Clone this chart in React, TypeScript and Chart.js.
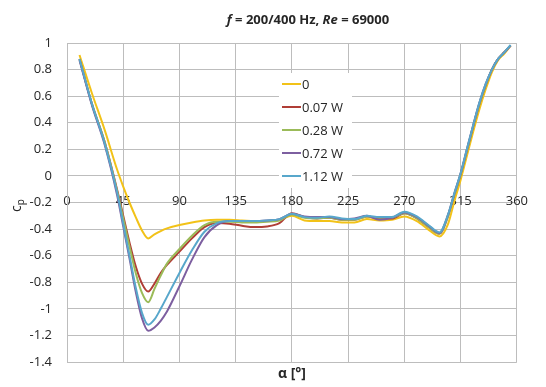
import React, { useEffect, useRef } from "react";
import { Chart, registerables } from "chart.js";
Chart.register(...registerables);

const angles = [10, 20, 30, 40, 45, 50, 55, 60, 65, 70, 75, 80, 90, 100, 110, 120, 130, 140, 150, 160, 170, 180, 190, 200, 210, 220, 230, 240, 250, 260, 270, 280, 290, 298, 305, 310, 315, 320, 325, 330, 335, 340, 345, 350, 355];

const cp0 = [0.91, 0.62, 0.35, 0.05, -0.08, -0.2, -0.31, -0.41, -0.47, -0.44, -0.415, -0.395, -0.37, -0.35, -0.335, -0.33, -0.33, -0.335, -0.34, -0.34, -0.33, -0.3, -0.335, -0.34, -0.34, -0.35, -0.35, -0.325, -0.335, -0.33, -0.305, -0.34, -0.41, -0.455, -0.36, -0.19, -0.03, 0.15, 0.33, 0.5, 0.65, 0.78, 0.87, 0.92, 0.98];
const cp007 = [0.88, 0.54, 0.26, -0.1, -0.3, -0.5, -0.68, -0.81, -0.87, -0.81, -0.73, -0.67, -0.57, -0.47, -0.385, -0.355, -0.36, -0.375, -0.385, -0.38, -0.355, -0.28, -0.31, -0.32, -0.315, -0.33, -0.33, -0.305, -0.32, -0.32, -0.28, -0.32, -0.39, -0.435, -0.3, -0.14, 0.01, 0.19, 0.37, 0.54, 0.68, 0.8, 0.88, 0.93, 0.98];
const cp028 = [0.88, 0.54, 0.26, -0.11, -0.32, -0.53, -0.73, -0.88, -0.95, -0.85, -0.75, -0.66, -0.55, -0.45, -0.37, -0.345, -0.345, -0.35, -0.35, -0.345, -0.335, -0.29, -0.315, -0.32, -0.315, -0.33, -0.33, -0.305, -0.315, -0.315, -0.28, -0.32, -0.39, -0.435, -0.3, -0.14, 0.01, 0.19, 0.37, 0.54, 0.68, 0.8, 0.88, 0.93, 0.98];
const cp072 = [0.87, 0.53, 0.24, -0.14, -0.38, -0.62, -0.87, -1.07, -1.165, -1.14, -1.09, -1.02, -0.83, -0.63, -0.46, -0.37, -0.34, -0.34, -0.34, -0.335, -0.325, -0.285, -0.305, -0.31, -0.31, -0.325, -0.32, -0.3, -0.33, -0.315, -0.275, -0.31, -0.38, -0.43, -0.29, -0.13, 0.02, 0.2, 0.38, 0.55, 0.69, 0.8, 0.88, 0.93, 0.98];
const cp112 = [0.88, 0.54, 0.25, -0.12, -0.36, -0.6, -0.84, -1.03, -1.12, -1.08, -1.0, -0.91, -0.73, -0.56, -0.42, -0.355, -0.34, -0.34, -0.34, -0.335, -0.325, -0.285, -0.31, -0.315, -0.305, -0.32, -0.325, -0.3, -0.31, -0.31, -0.27, -0.305, -0.375, -0.425, -0.29, -0.13, 0.02, 0.2, 0.38, 0.55, 0.69, 0.8, 0.88, 0.93, 0.985];

const seriesLabels = ["0", "0.07 W", "0.28 W", "0.72 W", "1.12 W"];
const seriesValues = [cp0, cp007, cp028, cp072, cp112];
const seriesColors = ["#F2C218", "#B03E36", "#9BBB59", "#7D5FA0", "#58A7CB"];

const titleParts = [
  { text: "f", italic: true },
  { text: " = 200/400 Hz, ", italic: false },
  { text: "Re", italic: true },
  { text: " = 69000", italic: false },
];
const xTitle = "α [°]";
const yTitleMain = "c";
const yTitleSub = "p";

const FONT = "'Open Sans', sans-serif";
const TEXT = "#262626";
const GRID = "#bdbdbd";

const overlay = {
  id: "overlay",
  afterDraw(chart: any) {
    const ctx = chart.ctx as CanvasRenderingContext2D;
    const area = chart.chartArea;
    ctx.save();
    // title
    ctx.fillStyle = TEXT;
    ctx.textBaseline = "middle";
    let total = 0;
    const fonts = titleParts.map((p) => (p.italic ? "italic " : "") + "bold 13px " + FONT);
    titleParts.forEach((p, i) => {
      ctx.font = fonts[i];
      total += ctx.measureText(p.text).width;
    });
    let x = 308 - total / 2;
    titleParts.forEach((p, i) => {
      ctx.font = fonts[i];
      ctx.textAlign = "left";
      ctx.fillText(p.text, x, 20);
      x += ctx.measureText(p.text).width;
    });
    // x title
    ctx.font = "bold 14px " + FONT;
    ctx.textAlign = "center";
    ctx.fillText(xTitle, (area.left + area.right) / 2, 374);
    // y title
    ctx.save();
    ctx.translate(17, 207);
    ctx.rotate(-Math.PI / 2);
    ctx.font = "14px " + FONT;
    ctx.textAlign = "left";
    const cw = ctx.measureText(yTitleMain).width;
    ctx.fillText(yTitleMain, -5, 0);
    ctx.font = "10px " + FONT;
    ctx.fillText(yTitleSub, -5 + cw, 4);
    ctx.restore();
    // legend
    ctx.fillStyle = "#ffffff";
    ctx.fillRect(279, 73, 73, 115);
    const ys = [84, 107, 130, 153, 176];
    seriesLabels.forEach((lab, i) => {
      ctx.strokeStyle = seriesColors[i];
      ctx.lineWidth = 2;
      ctx.beginPath();
      ctx.moveTo(282, ys[i]);
      ctx.lineTo(301, ys[i]);
      ctx.stroke();
      ctx.fillStyle = TEXT;
      ctx.font = "13px " + FONT;
      ctx.textAlign = "left";
      ctx.textBaseline = "middle";
      ctx.fillText(lab, 302, ys[i] + 1);
    });
    ctx.restore();
  },
};

export default function App() {
  const ref = useRef<HTMLCanvasElement>(null);
  useEffect(() => {
    const datasets = seriesLabels.map((lab, i) => ({
      label: lab,
      data: angles.map((a, j) => ({ x: a, y: seriesValues[i][j] })),
      borderColor: seriesColors[i],
      backgroundColor: seriesColors[i],
      borderWidth: 2,
      pointRadius: 0,
      fill: false,
      cubicInterpolationMode: "monotone" as const,
      order: 5 - i,
    }));
    const chart = new Chart(ref.current!, {
      type: "line",
      data: { datasets },
      options: {
        animation: false,
        responsive: false,
        maintainAspectRatio: false,
        layout: { padding: { left: 0, right: 19, top: 43, bottom: 25 } },
        plugins: { legend: { display: false }, tooltip: { enabled: false }, title: { display: false } },
        scales: {
          x: {
            type: "linear",
            min: 0,
            max: 360,
            position: { y: 0 } as any,
            ticks: { stepSize: 45, color: TEXT, font: { family: FONT, size: 13 }, padding: 18, maxRotation: 0 },
            grid: { color: GRID, drawTicks: false },
            border: { color: GRID },
          },
          y: {
            type: "linear",
            min: -1.4,
            max: 1,
            ticks: {
              stepSize: 0.2,
              color: TEXT,
              font: { family: FONT, size: 13 },
              padding: 15,
              callback: (v: any) => String(Number(Number(v).toFixed(1))),
            },
            grid: { color: GRID, drawTicks: false },
            border: { color: GRID },
            afterFit: (s: any) => {
              s.width = 67;
            },
          },
        },
      },
      plugins: [overlay],
    });
    return () => chart.destroy();
  }, []);
  return (
    <div style={{ position: "fixed", left: 0, top: 0, width: 546, height: 387, background: "#fff" }}>
      <canvas ref={ref} width={546} height={387} style={{ width: 546, height: 387 }} />
    </div>
  );
}
